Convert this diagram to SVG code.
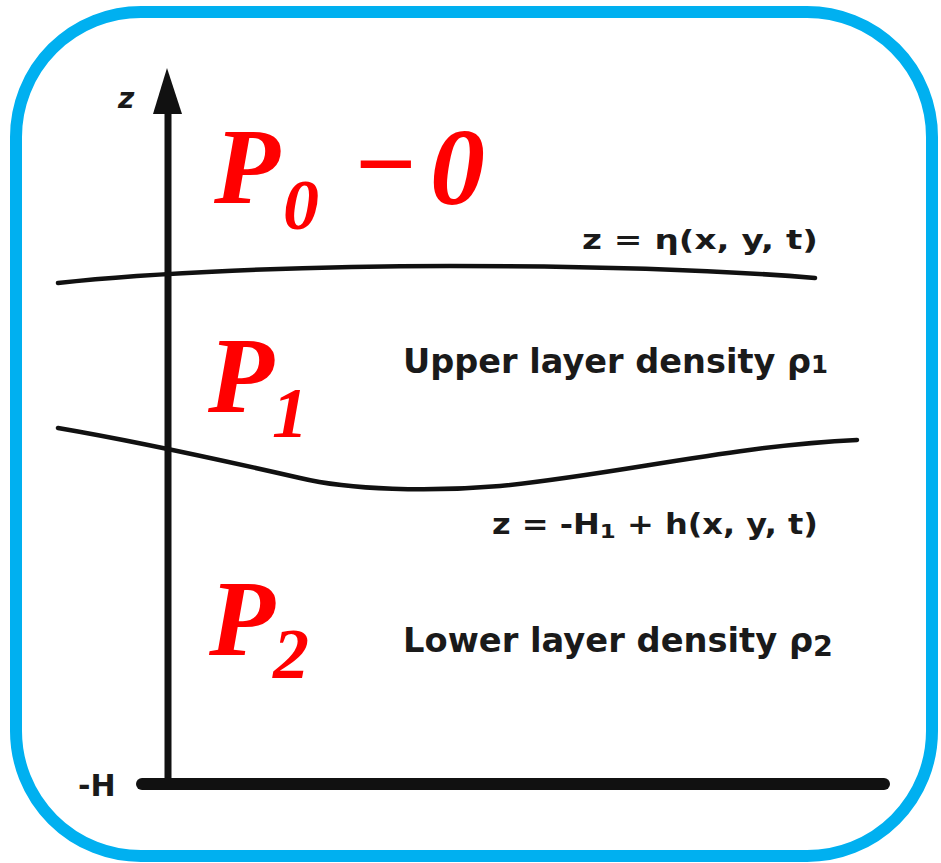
<svg xmlns="http://www.w3.org/2000/svg" width="941" height="863" viewBox="0 0 941 863">
<style>
.red{fill:#FF0000;font-family:"Liberation Serif","Times New Roman",serif;font-weight:bold;font-style:italic}
.lbl{fill:#1a1a1a;font-family:"DejaVu Sans","Liberation Sans",sans-serif;font-weight:bold}
.ln{fill:none;stroke:#111;stroke-linecap:round}
</style>
<rect x="16" y="12" width="916" height="844" rx="125" ry="125" fill="#FFFFFF" stroke="#00B0F0" stroke-width="12"/>
<g id="connectors">
<line class="ln" x1="168" y1="108" x2="168" y2="786" stroke-width="7"/>
<polygon points="167,68 153,114 182,114" fill="#111"/>
<line class="ln" x1="142" y1="784" x2="884" y2="784" stroke-width="12" stroke-linecap="butt"/>
<path class="ln" d="M58,283 C150,273 300,266 450,266 C600,266 720,270 815,278" stroke-width="4.5"/>
<path class="ln" d="M58,428 C140,442 230,462 300,478 C350,490 430,492 500,486 C620,474 730,446 857,440" stroke-width="4.5"/>
</g>
<g id="axis-labels">
<text class="lbl" x="118" y="108" font-size="28" font-style="italic">z</text>
<text class="lbl" x="78" y="796" font-size="30">-H</text>
</g>
<g id="p0">
<text class="red" x="214" y="203" font-size="108">P</text>
<text class="red" x="283" y="229" font-size="72">0</text>
<text class="red" x="352" y="200" font-size="108">−</text>
<text class="red" x="430" y="204" font-size="110">0</text>
</g>
<g id="p1">
<text class="red" x="208" y="412" font-size="108">P</text>
<text class="red" x="272" y="437" font-size="72">1</text>
</g>
<g id="p2">
<text class="red" x="209" y="655" font-size="108">P</text>
<text class="red" x="273" y="678" font-size="72">2</text>
</g>
<g id="surface-label">
<text class="lbl" x="582" y="249" font-size="27" textLength="236" lengthAdjust="spacingAndGlyphs">z = η(x, y, t)</text>
</g>
<g id="upper-layer">
<text class="lbl" x="403" y="373" font-size="33" textLength="425" lengthAdjust="spacingAndGlyphs">Upper layer density ρ<tspan font-size="24">1</tspan></text>
</g>
<g id="interface-label">
<text class="lbl" x="492" y="534" font-size="28" textLength="326" lengthAdjust="spacingAndGlyphs">z = -H<tspan font-size="20" dy="4">1</tspan><tspan dy="-4"> + h(x, y, t)</tspan></text>
</g>
<g id="lower-layer">
<text class="lbl" x="403" y="652" font-size="33" textLength="430" lengthAdjust="spacingAndGlyphs">Lower layer density ρ<tspan font-size="28" dy="4">2</tspan></text>
</g>
</svg>
